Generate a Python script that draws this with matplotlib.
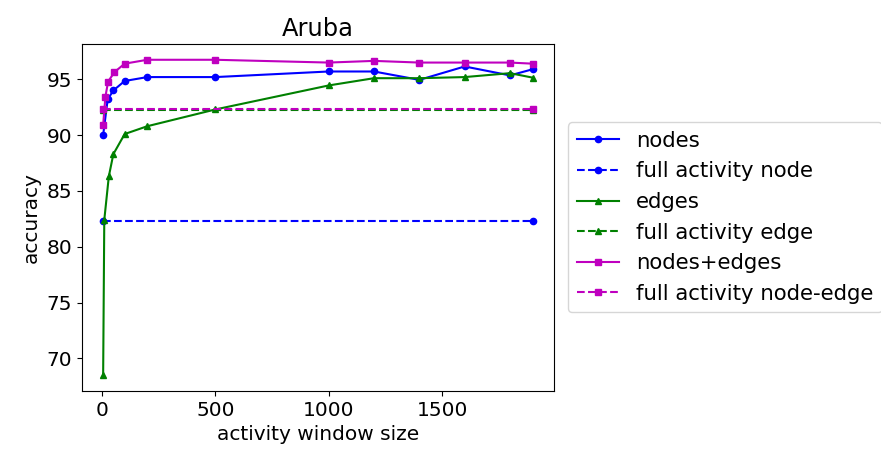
import matplotlib
matplotlib.use("Agg")
from matplotlib import pyplot as plt

# activity window sizes
nodes_x = [5, 25, 50, 100, 200, 500, 1000, 1200, 1400, 1600, 1800, 1900]
nodes_acc = [90.0, 93.2, 94.0, 94.85, 95.2, 95.2, 95.7, 95.7, 94.95, 96.15, 95.35, 95.9]

edges_x = [5, 10, 30, 50, 100, 200, 500, 1000, 1200, 1400, 1600, 1800, 1900]
edges_acc = [68.5, 82.4, 86.3, 88.3, 90.1, 90.8, 92.3, 94.45, 95.1, 95.1, 95.2, 95.55, 95.15]

both_x = [5, 15, 27, 55, 100, 200, 500, 1000, 1200, 1400, 1600, 1800, 1900]
both_acc = [90.9, 93.45, 94.8, 95.65, 96.4, 96.75, 96.75, 96.5, 96.65, 96.5, 96.5, 96.5, 96.4]

full_x = [5, 1900]
full_node = 82.35
full_edge = 92.25
full_both = 92.35

plt.rcParams['font.size'] = 14.5

fig = plt.figure(figsize=(8.81, 4.55), dpi=100)
ax = fig.add_axes([0.0927, 0.1407, 0.5363, 0.7626])

ax.plot(nodes_x, nodes_acc, 'b-o', markersize=4.5, label='nodes')
ax.plot(full_x, [full_node] * 2, 'b--o', markersize=4.5, label='full activity node')
ax.plot(edges_x, edges_acc, 'g-^', markersize=4.5, label='edges')
ax.plot(full_x, [full_edge] * 2, 'g--^', markersize=4.5, label='full activity edge')
ax.plot(both_x, both_acc, 'm-s', markersize=4.5, label='nodes+edges')
ax.plot(full_x, [full_both] * 2, 'm--s', markersize=4.5, label='full activity node-edge')

ax.set_title('Aruba')
ax.set_xlabel('activity window size')
ax.set_ylabel('accuracy')
ax.set_xticks([0, 500, 1000, 1500])

ax.legend(loc='center left', bbox_to_anchor=(568 / 881, 0.5223),
          bbox_transform=fig.transFigure, borderaxespad=0, fontsize=15.3)

fig.savefig('out.png', dpi=100)
